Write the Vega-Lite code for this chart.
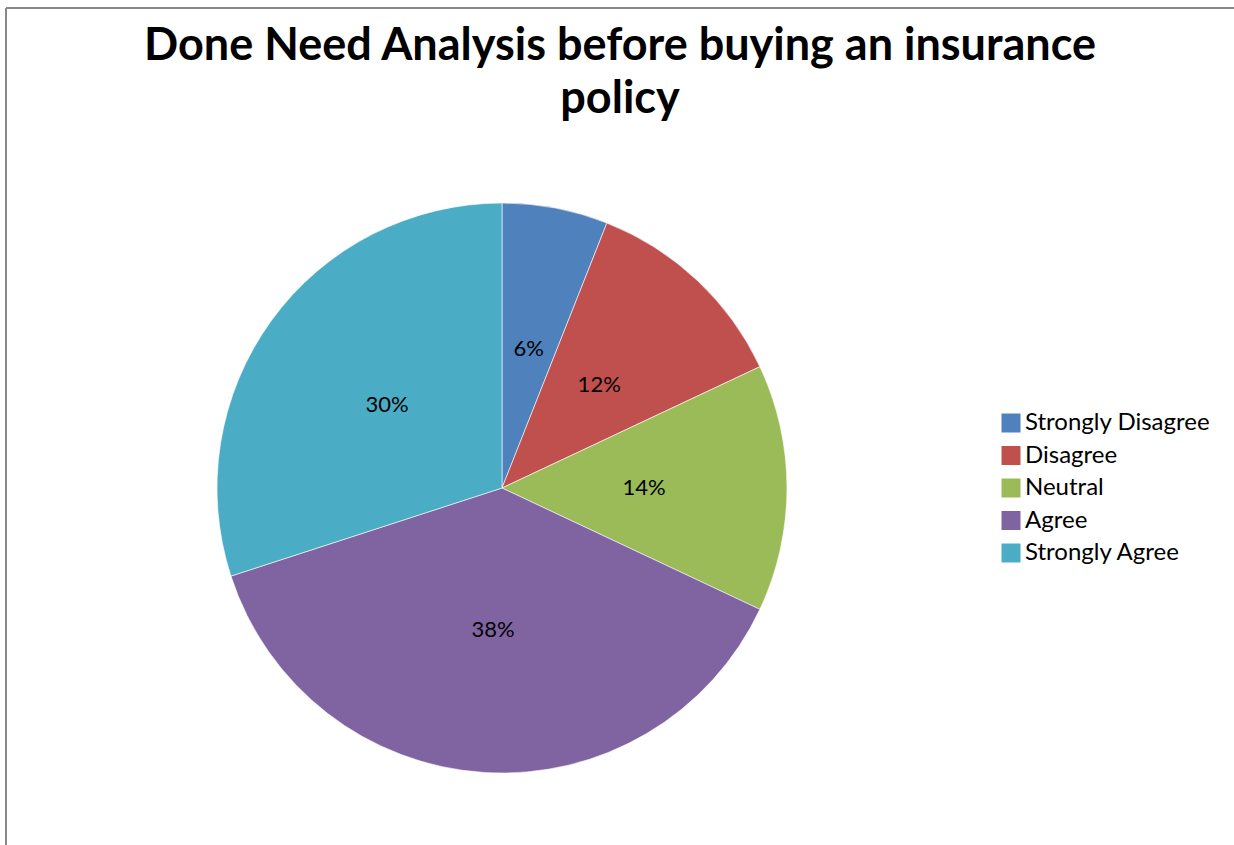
{
  "$schema": "https://vega.github.io/schema/vega-lite/v6.json",
  "autosize": "none",
  "padding": {"left": 6, "top": 8, "right": 0, "bottom": 0},
  "width": 1228,
  "height": 837,
  "background": "white",
  "config": {
    "view": {"stroke": "#898989", "strokeWidth": 2, "strokeDash": [1228, 2065, 837, 0]},
    "font": "Lato"
  },
  "title": {
    "text": ["Done Need Analysis before buying an insurance", "policy"],
    "fontSize": 45,
    "fontWeight": "bold",
    "font": "Lato",
    "color": "#000000",
    "anchor": "middle",
    "lineHeight": 53,
    "offset": -114
  },
  "data": {
    "values": [
      {"category": "Strongly Disagree", "value": 0.06, "rank": 1},
      {"category": "Disagree", "value": 0.12, "rank": 2},
      {"category": "Neutral", "value": 0.14, "rank": 3},
      {"category": "Agree", "value": 0.38, "rank": 4},
      {"category": "Strongly Agree", "value": 0.30, "rank": 5}
    ]
  },
  "encoding": {
    "theta": {"field": "value", "type": "quantitative", "stack": true},
    "order": {"field": "rank", "type": "quantitative"},
    "x": {"datum": 0.4039, "type": "quantitative", "scale": {"domain": [0, 1]}, "axis": null},
    "y": {"datum": 0.5735, "type": "quantitative", "scale": {"domain": [0, 1], "reverse": true}, "axis": null}
  },
  "layer": [
    {
      "mark": {"type": "arc", "outerRadius": 285, "stroke": "#ffffff", "strokeWidth": 0.6},
      "encoding": {
        "color": {
          "field": "category",
          "type": "nominal",
          "sort": ["Strongly Disagree", "Disagree", "Neutral", "Agree", "Strongly Agree"],
          "scale": {
            "domain": ["Strongly Disagree", "Disagree", "Neutral", "Agree", "Strongly Agree"],
            "range": ["#4F81BD", "#C0504D", "#9BBB59", "#8064A2", "#4BACC6"]
          },
          "legend": {
            "title": null,
            "orient": "none",
            "legendX": 993,
            "legendY": 403,
            "symbolType": "square",
            "symbolSize": 361,
            "symbolStrokeWidth": 0,
            "symbolOpacity": 1,
            "labelFontSize": 24,
            "labelFont": "Lato",
            "labelColor": "#000000",
            "labelOffset": 2,
            "rowPadding": 8.5,
            "labelLimit": 400
          }
        }
      }
    },
    {
      "mark": {"type": "text", "radius": 142, "fontSize": 22, "font": "Lato", "color": "#000000"},
      "encoding": {
        "text": {"field": "value", "type": "quantitative", "format": ".0%"}
      }
    }
  ]
}
